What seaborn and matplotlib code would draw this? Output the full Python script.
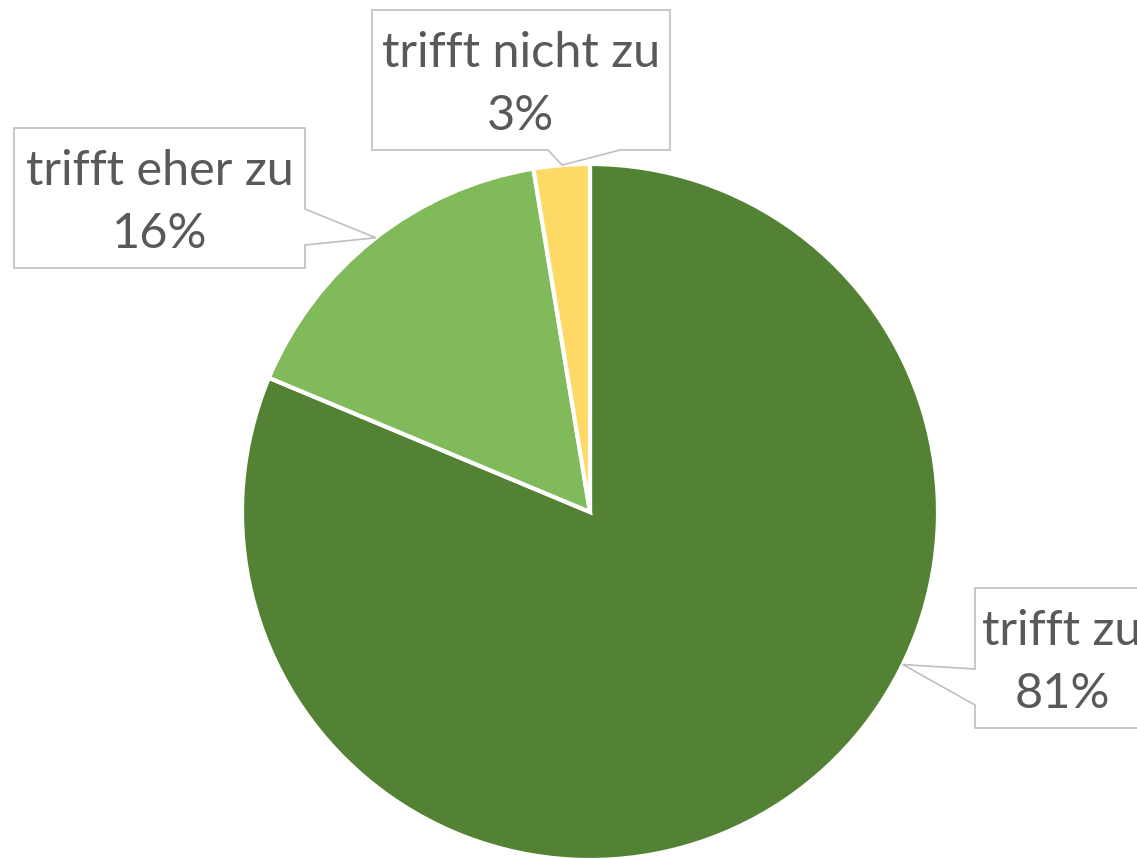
import numpy as np
import matplotlib
matplotlib.use("Agg")
import matplotlib.pyplot as plt
from matplotlib.patches import Polygon
import seaborn as sns

# ---- data ----
categories = ["trifft zu", "trifft eher zu", "trifft nicht zu"]
values = [81.3, 16.1, 2.6]
colors = ["#548235", "#80BA5A", "#FFD966"]

# ---- layout (pixel coordinates, y downward) ----
W, H = 1137, 859
CX, CY, R = 590, 512, 348
callouts = [
    dict(box=(975, 588, 1160, 728), side="left", base=(669, 705), tip_angle=-26.0, tx=1062),
    dict(box=(14, 128, 305, 268), side="right", base=(209, 245), tip_angle=128.0, tx=160),
    dict(box=(372, 10, 670, 150), side="bottom", base=(548, 620), tip_angle=94.6, tx=521),
]

sns.set_theme(style="white")
plt.rcParams["font.family"] = ["Lato", "DejaVu Sans"]

fig = plt.figure(figsize=(W / 100, H / 100), dpi=100)
ax = fig.add_axes([0, 0, 1, 1])

ax.pie(values, colors=colors, startangle=90, counterclock=False,
       center=(CX, H - CY), radius=R, frame=True,
       wedgeprops=dict(edgecolor="white", linewidth=3))
ax.set_xlim(0, W)
ax.set_ylim(0, H)
ax.set_aspect("equal")
ax.axis("off")

def fy(y):
    return H - y

for cat, val, c in zip(categories, values, callouts):
    x0, y0, x1, y1 = c["box"]
    a = np.deg2rad(c["tip_angle"])
    tip = (CX + R * np.cos(a), CY - R * np.sin(a))
    pa, pb = c["base"]
    if c["side"] == "left":
        pts = [(x0, y0), (x1, y0), (x1, y1), (x0, y1), (x0, pb), tip, (x0, pa)]
    elif c["side"] == "right":
        pts = [(x0, y0), (x1, y0), (x1, pa), tip, (x1, pb), (x1, y1), (x0, y1)]
    else:
        pts = [(x0, y0), (x1, y0), (x1, y1), (pb, y1), tip, (pa, y1), (x0, y1)]
    poly = Polygon([(px, fy(py)) for px, py in pts], closed=True,
                   facecolor="white", edgecolor="#BFBFBF", linewidth=1.2, zorder=5)
    ax.add_patch(poly)
    ax.text(c["tx"], fy(y0 + 57), cat, ha="center", va="baseline",
            fontsize=35, color="#595959", zorder=6)
    ax.text(c["tx"], fy(y0 + 120), f"{round(val)}%", ha="center", va="baseline",
            fontsize=35, color="#595959", zorder=6)

fig.savefig("out.png", dpi=100, facecolor="white")
